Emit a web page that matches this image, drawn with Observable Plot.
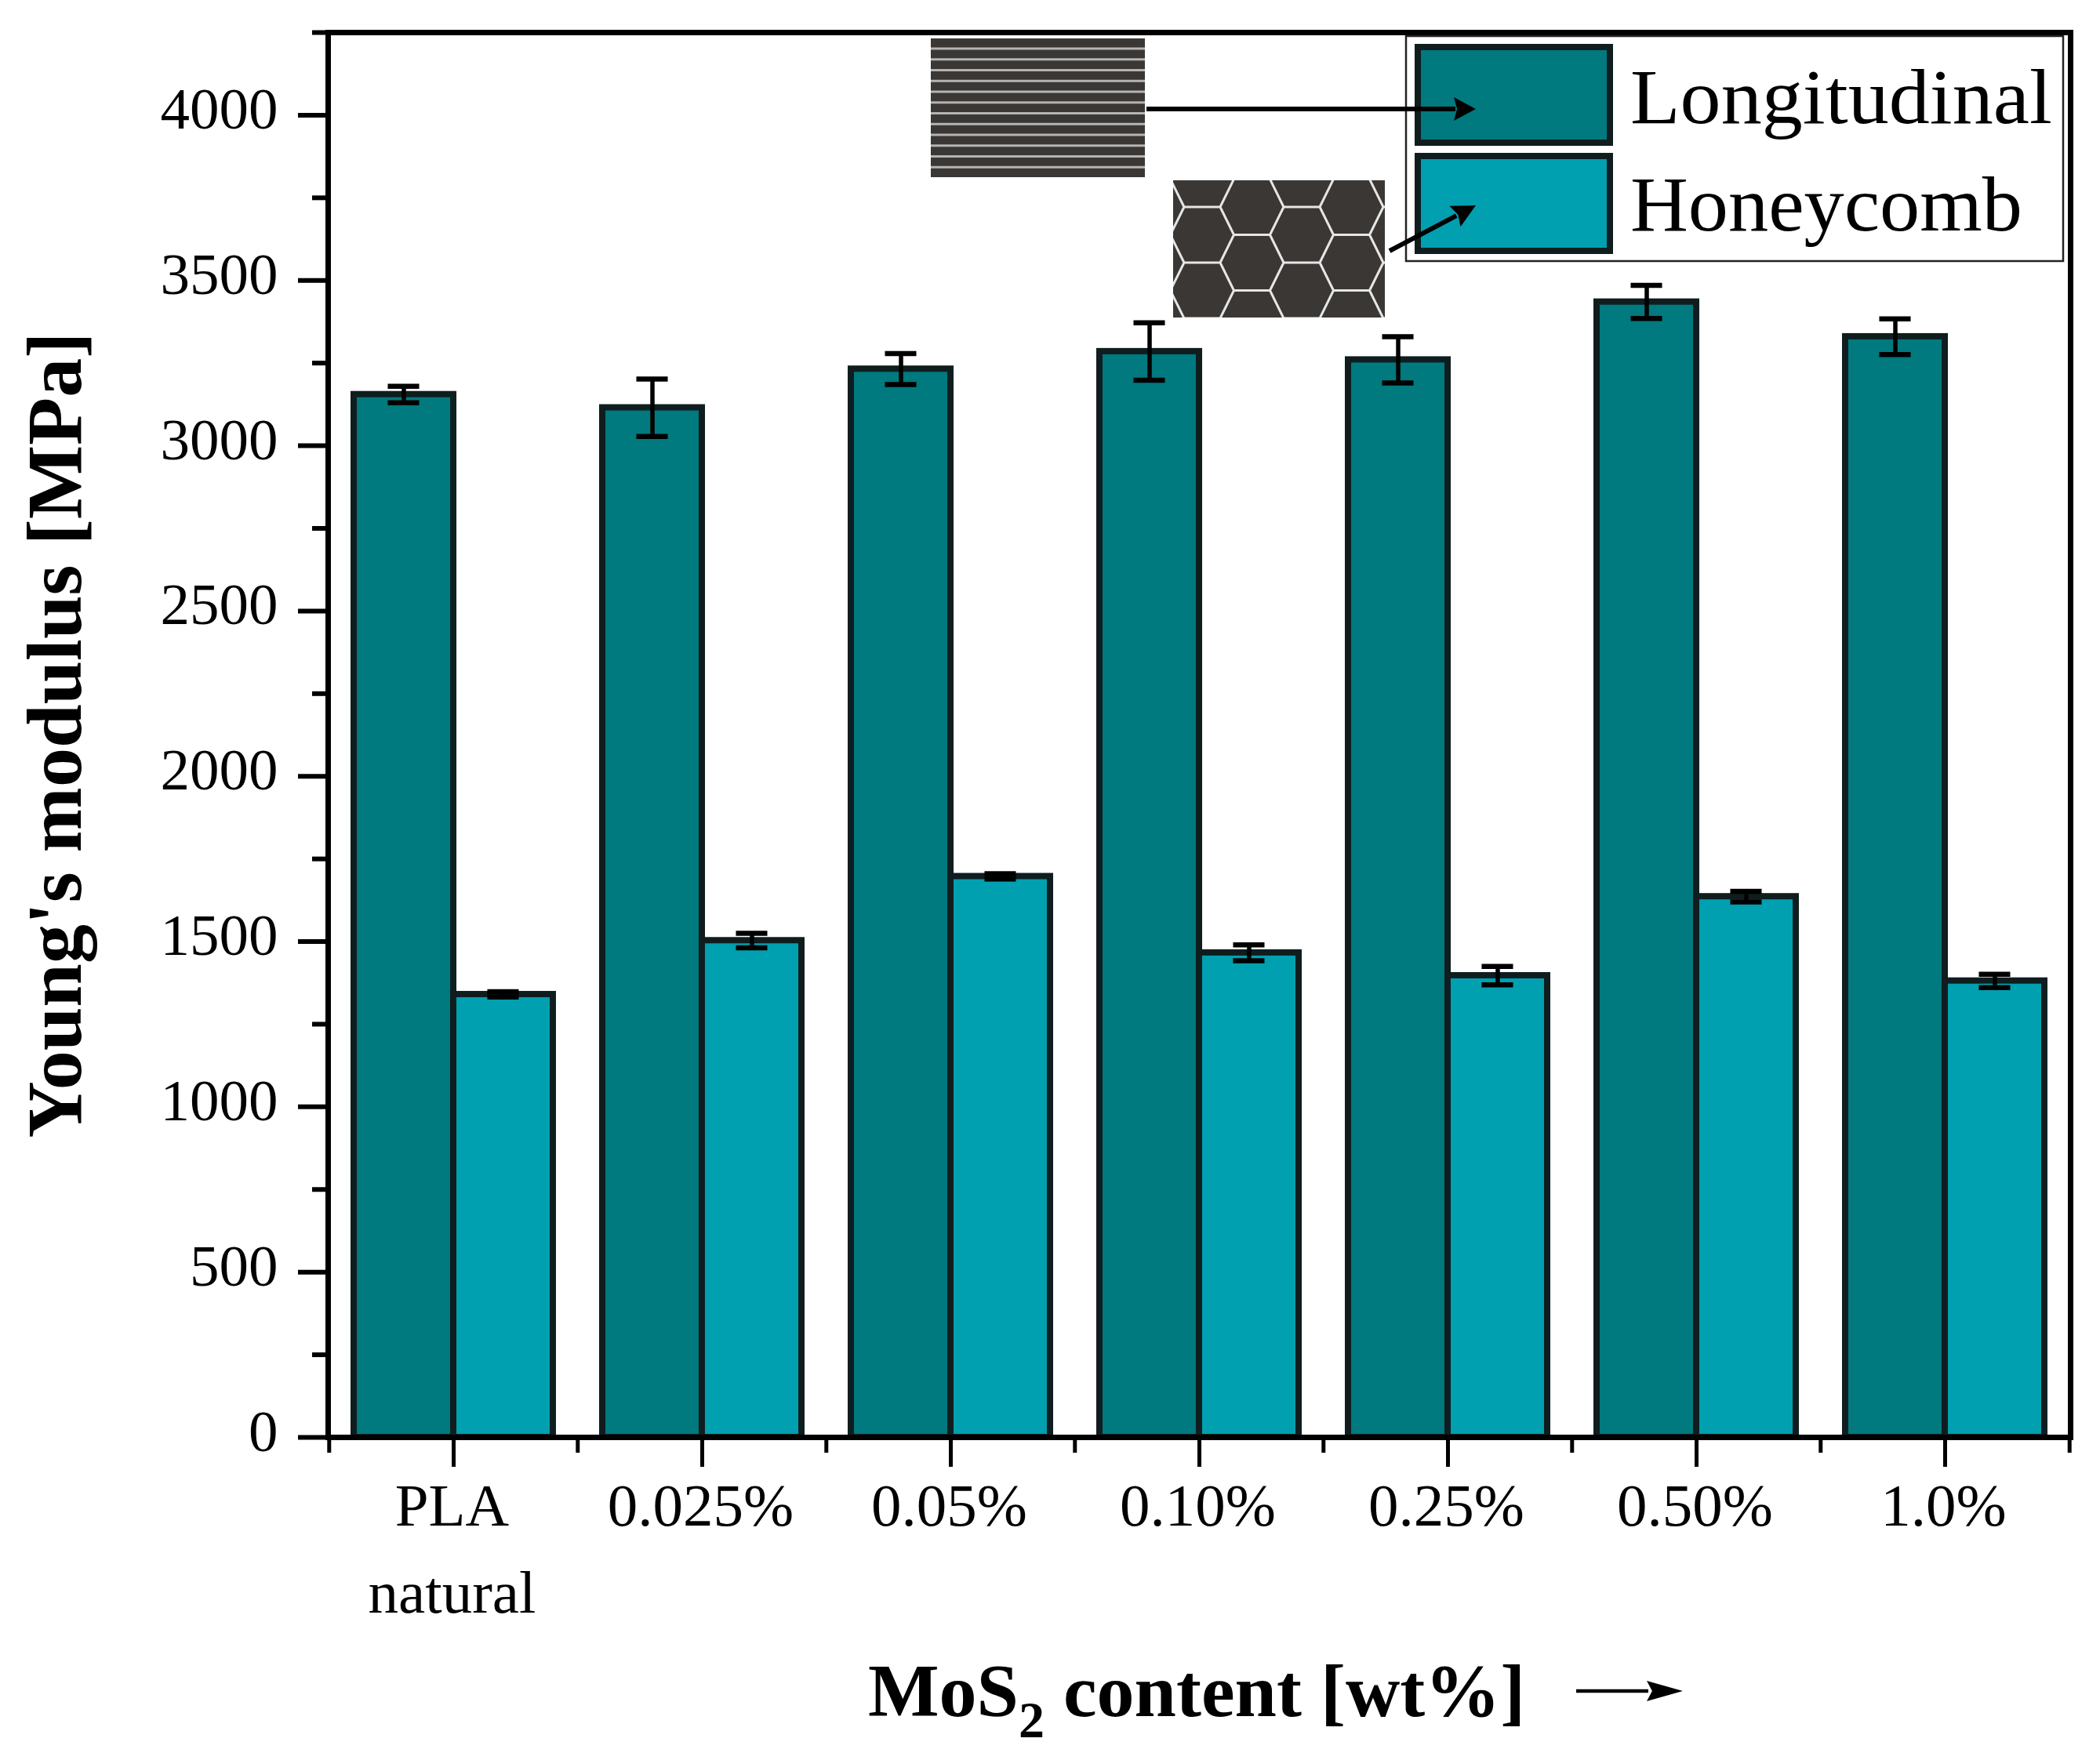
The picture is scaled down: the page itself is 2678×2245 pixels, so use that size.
<!DOCTYPE html>
<html>
<head>
<meta charset="utf-8">
<script src="https://cdn.jsdelivr.net/npm/d3@7"></script>
<script src="https://cdn.jsdelivr.net/npm/@observablehq/plot@0.6"></script>
<style>
  html, body { margin: 0; padding: 0; background: #fff; }
  svg { display: block; }
</style>
</head>
<body>
<div id="chart"></div>
<script>
const categories = ["PLA\nnatural", "0.025%", "0.05%", "0.10%", "0.25%", "0.50%", "1.0%"];
const seriesNames = ["Longitudinal", "Honeycomb"];
const longitudinal = [3155, 3115, 3232, 3285, 3260, 3435, 3330];
const longitudinalErr = [25, 87, 47, 87, 70, 50, 54];
const honeycomb = [1340, 1503, 1697, 1466, 1397, 1636, 1381];
const honeycombErr = [8, 22, 8, 24, 28, 16, 20];
const yMajor = [0, 500, 1000, 1500, 2000, 2500, 3000, 3500, 4000];
const yMinor = [250, 750, 1250, 1750, 2250, 2750, 3250, 3750, 4250];
const colors = ["#00797f", "#00a0b0"];
const edge = "#0f1d1f";
const ink = "#3a3735";

const font = "'Liberation Serif', serif";
const table = (vals, errs) => categories.map((c, i) => ({c, v: vals[i], lo: vals[i] - errs[i], hi: vals[i] + errs[i]}));
const L = table(longitudinal, longitudinalErr);
const H = table(honeycomb, honeycombErr);

const W = 2678, HT = 2245, mL = 418, mR = 38, mT = 41, mB = 412;
const step = (W - mL - mR) / categories.length;
const half = step * 0.4;            // width of one bar
const capW = 40;
const capIn = (half - capW) / 2;

function annotations() {
  const svgNS = "http://www.w3.org/2000/svg";
  const g = d3.select(document.createElementNS(svgNS, "g")).attr("text-anchor", "start");
  const defs = g.append("defs");

  // legend frame and keys
  g.append("rect").attr("x", 1793).attr("y", 46).attr("width", 838).attr("height", 287)
    .attr("fill", "#fff").attr("stroke", "#222").attr("stroke-width", 2.5);
  [[60, 122], [199, 121]].forEach(([y, h], i) => {
    g.append("rect").attr("x", 1808).attr("y", y).attr("width", 245).attr("height", h)
      .attr("fill", colors[i]).attr("stroke", edge).attr("stroke-width", 8);
  });
  [[157, 538], [294, 500]].forEach(([y, len], i) => {
    g.append("text").attr("x", 2079).attr("y", y).text(seriesNames[i])
      .attr("text-anchor", "start")
      .attr("font-family", font).attr("font-size", 100).attr("fill", "#000")
      .attr("textLength", len).attr("lengthAdjust", "spacingAndGlyphs");
  });

  // striped sample
  g.append("rect").attr("x", 1187).attr("y", 49).attr("width", 273).attr("height", 177).attr("fill", ink);
  for (let k = 0; k < 12; k++) {
    const y = 62 + k * 13.75;
    g.append("line").attr("x1", 1187).attr("x2", 1460).attr("y1", y).attr("y2", y)
      .attr("stroke", "#b4b4b4").attr("stroke-width", 3);
  }

  // honeycomb sample
  defs.append("clipPath").attr("id", "hc").append("rect")
    .attr("x", 1496).attr("y", 230).attr("width", 270).attr("height", 175);
  const hc = g.append("g").attr("clip-path", "url(#hc)");
  hc.append("rect").attr("x", 1496).attr("y", 230).attr("width", 270).attr("height", 175).attr("fill", ink);
  const px = 127, py = 71, segW = 46, gap = 17.5;
  let d = "";
  for (let col = -1; col < 4; col++) {
    for (let row = -2; row < 5; row++) {
      const a = 1510 + col * px, y0 = 264 + row * py;     // odd column
      const b = a + segW + gap, y1 = y0 + py / 2;         // even column
      d += `M${a},${y0}h${segW}`;
      d += `M${b},${y1}h${segW}`;
      d += `M${a + segW},${y0}L${b},${y1}`;
      d += `M${a + segW},${y0}L${b},${y0 - py / 2}`;
      d += `M${b + segW},${y1}L${a + px},${y1 - py / 2}`;
      d += `M${b + segW},${y1}L${a + px},${y1 + py / 2}`;
    }
  }
  hc.append("path").attr("d", d).attr("fill", "none").attr("stroke", "#e6e6e6").attr("stroke-width", 3);

  // arrows with explicit notched heads
  const arrow = (x1, y1, x2, y2, w, len, wid) => {
    const a = Math.atan2(y2 - y1, x2 - x1), c = Math.cos(a), s = Math.sin(a);
    const bx = x2 - len * c, by = y2 - len * s;
    g.append("line").attr("x1", x1).attr("y1", y1).attr("x2", bx + 2 * c).attr("y2", by + 2 * s)
      .attr("stroke", "#000").attr("stroke-width", w);
    g.append("polygon").attr("fill", "#000").attr("points", [
      [x2, y2],
      [bx - s * wid / 2, by + c * wid / 2],
      [bx + len * 0.15 * c, by + len * 0.15 * s],
      [bx + s * wid / 2, by - c * wid / 2]
    ].join(" "));
  };
  arrow(1462, 139, 1882, 139, 6, 28, 30);
  arrow(1772, 320, 1882, 262, 6, 30, 30);
  arrow(2010, 2157, 2146, 2157, 4.5, 46, 26);

  // x title
  const t = g.append("text").attr("x", 1107).attr("y", 2189).attr("text-anchor", "start")
    .attr("font-family", font).attr("font-size", 96).attr("font-weight", "bold").attr("fill", "#000");
  t.append("tspan").text("MoS");
  t.append("tspan").attr("dy", 27).attr("font-size", 66).text("2");
  t.append("tspan").attr("dy", -27).text(" content [wt%]");

  return g.node();
}

const barOpts = {stroke: edge, strokeWidth: 8};
const chart = Plot.plot({
  width: W, height: HT,
  marginLeft: mL, marginRight: mR, marginTop: mT, marginBottom: mB,
  style: {fontFamily: font, background: "#fff", color: "#000", overflow: "visible"},
  x: {type: "band", domain: categories, paddingInner: 0.2, paddingOuter: 0.1, axis: null},
  y: {domain: [0, 4250], axis: null},
  marks: [
    Plot.barY(L, {x: "c", y: "v", fill: colors[0], insetRight: half, ...barOpts}),
    Plot.barY(H, {x: "c", y: "v", fill: colors[1], insetLeft: half, ...barOpts}),
    Plot.ruleX(L, {x: "c", y1: "lo", y2: "hi", dx: -half / 2, stroke: "#000", strokeWidth: 5.5}),
    Plot.ruleX(H, {x: "c", y1: "lo", y2: "hi", dx: half / 2, stroke: "#000", strokeWidth: 5.5}),
    ...["lo", "hi"].flatMap(k => [
      Plot.tickY(L, {x: "c", y: k, insetLeft: capIn, insetRight: half + capIn, stroke: "#000", strokeWidth: 6.5}),
      Plot.tickY(H, {x: "c", y: k, insetLeft: half + capIn, insetRight: capIn, stroke: "#000", strokeWidth: 6.5})
    ]),
    Plot.frame({stroke: "#000", strokeWidth: 7}),
    Plot.axisY({ticks: yMajor, tickSize: 38, strokeWidth: 6, label: null, text: null}),
    Plot.axisY({ticks: yMinor, tickSize: 20, strokeWidth: 6, label: null, text: null}),
    Plot.text(yMajor, {y: d => d, text: d => String(d), frameAnchor: "left", textAnchor: "end", dx: -64, dy: -7, fontSize: 75, fill: "#000"}),
    Plot.axisX({ticks: categories, tickSize: 38, strokeWidth: 5, label: null, text: null}),
    Plot.axisX({ticks: categories, tickSize: 20, strokeWidth: 5, label: null, text: null, dx: -step / 2}),
    Plot.axisX({ticks: categories.slice(-1), tickSize: 20, strokeWidth: 5, label: null, text: null, dx: step / 2}),
    Plot.text(categories, {x: d => d, text: d => d, frameAnchor: "bottom", lineAnchor: "top", dy: 33, dx: -2, fontSize: 77, lineHeight: 1.45, fill: "#000"}),
    Plot.text(["Young's modulus [MPa]"], {text: d => d, frameAnchor: "left", textAnchor: "middle", rotate: -90, dx: -316, lineAnchor: "bottom", fontSize: 100, fontWeight: "bold", fill: "#000"}),
    annotations
  ]
});
document.getElementById("chart").append(chart);
</script>
</body>
</html>
